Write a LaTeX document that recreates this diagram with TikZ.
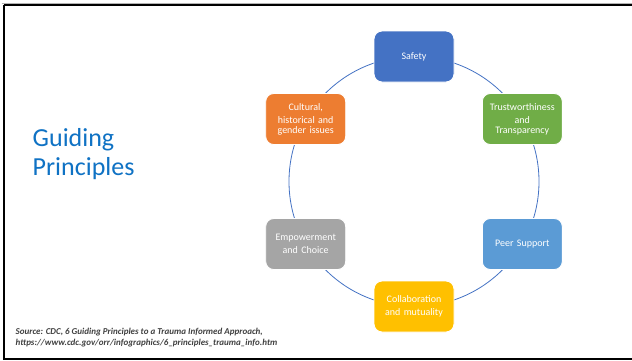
\documentclass[tikz,border=0pt]{standalone}
\usepackage{fontspec}
\setmainfont{Carlito}
\definecolor{ringblue}{HTML}{4472C4}
\definecolor{cSafety}{HTML}{4472C4}
\definecolor{cTrust}{HTML}{70AD47}
\definecolor{cPeer}{HTML}{5B9BD5}
\definecolor{cCollab}{HTML}{FFC000}
\definecolor{cEmpower}{HTML}{A5A5A5}
\definecolor{cCulture}{HTML}{ED7D31}
\definecolor{titleblue}{HTML}{0F72C4}
\definecolor{srcgray}{HTML}{404040}
\begin{document}
\begin{tikzpicture}[x=1pt,y=-1pt,
  principle/.style={draw=white, line width=0.9pt, rounded corners=8pt,
    minimum width=80pt, minimum height=51pt, inner sep=0pt,
    text=white, align=center, text width=78pt,
    font=\fontsize{10}{9.6}\selectfont},
  frame/.style={line width=2.3pt, black}]
\useasboundingbox (0,0) rectangle (632,360);
\fill[white] (0,0) rectangle (632,360);
% slide frame
\draw[gray!60, line width=0.8pt] (1.5,3.3) -- (632,3.3);
\draw[frame] (3.8,4.8) -- (632,4.8);
\draw[frame] (3.8,4.8) -- (3.8,360);
\draw[frame] (3.8,358.9) -- (632,358.9);
% ring behind the six principles
\coordinate (ctr) at (414,181.5);
\draw[ringblue, line width=0.8pt] (ctr) circle[radius=125pt];
% the six principles
\node[principle, fill=cSafety]  (safety)  at (414,56.5)  {Safety};
\node[principle, fill=cTrust]   (trust)   at (522.3,119) {Trustworthiness\\[4pt]and\\Transparency};
\node[principle, fill=cPeer]    (peer)    at (522.3,244) {Peer Support};
\node[principle, fill=cCollab, font=\fontsize{10}{13.5}\selectfont]  (collab)  at (414,306.5) {Collaboration\\and mutuality};
\node[principle, fill=cEmpower, font=\fontsize{10}{13}\selectfont] (empower) at (305.7,244) {Empowerment\\and Choice};
\node[principle, fill=cCulture] (culture) at (305.7,119) {Cultural,\\[4pt]historical and\\gender issues};
% title (base anchor sits on the last line)
\node[anchor=base west, inner sep=0pt, text=titleblue, align=left,
  font=\fontsize{26}{29}\selectfont] (title) at (32.5,175.7) {Guiding\\Principles};
% source note (base anchor sits on the last line)
\node[anchor=base west, inner sep=0pt, text=srcgray, align=left,
  font=\fontsize{9}{10.8}\selectfont\bfseries\itshape] (source) at (15.5,345.5)
  {Source: CDC, 6 Guiding Principles to a Trauma Informed Approach,\\https://www.cdc.gov/orr/infographics/6\_principles\_trauma\_info.htm};
\end{tikzpicture}
\end{document}
